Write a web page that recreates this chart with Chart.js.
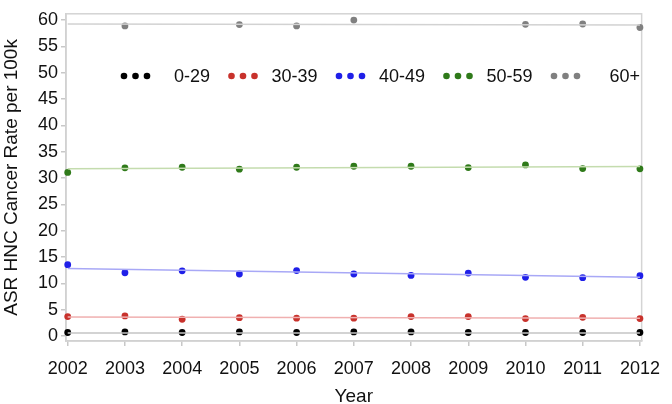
<!DOCTYPE html>
<html>
<head>
<meta charset="utf-8">
<script src="https://cdn.jsdelivr.net/npm/chart.js@4"></script>
<style>
  html, body { margin: 0; padding: 0; background: #fff; }
  #wrap { width: 672px; height: 404px; }
</style>
</head>
<body>
<div id="wrap"><canvas id="hncChart" width="672" height="404"></canvas></div>
<script>
// valores
const years = [2002, 2003, 2004, 2005, 2006, 2007, 2008, 2009, 2010, 2011, 2012];
const yTicks = [0, 5, 10, 15, 20, 25, 30, 35, 40, 45, 50, 55, 60];
const groupNames = ['0-29', '30-39', '40-49', '50-59', '60+'];

const rate0_29  = [0.68, 0.8, 0.68, 0.8, 0.68, 0.8, 0.8, 0.68, 0.68, 0.68, 0.68];
const rate30_39 = [3.7, 3.83, 3.2, 3.5, 3.4, 3.4, 3.7, 3.7, 3.33, 3.57, 3.33];
const rate40_49 = [13.56, 12.03, 12.4, 11.79, 12.45, 11.79, 11.53, 11.97, 11.16, 11.1, 11.47];
const rate50_59 = [31.08, 31.95, 32.06, 31.69, 32.06, 32.25, 32.25, 32.0, 32.5, 31.82, 31.77];
const rate60up  = [null, 58.9, null, 59.15, 58.9, 60.0, null, null, 59.2, 59.26, 58.6];

// linhas de tendência (início 2002, fim 2012)
const trendYears = [2002, 2012];
const trend0_29  = [0.6, 0.6];
const trend30_39 = [3.64, 3.39];
const trend40_49 = [12.82, 11.16];
const trend50_59 = [31.77, 32.19];
const trend60up  = [59.26, 59.07];

const dotColors   = ['#000000', '#c8322c', '#1f1fe8', '#2f7a1a', '#808080'];
const trendColors = ['#c4c4c4', '#f0b0b0', '#a8a8f6', '#c4dcae', '#d2d2d2'];

const FONT = "'Liberation Sans', Arial, sans-serif";

function toPoints(xs, ys) {
    return xs.map((x, i) => ({ x: x, y: ys[i] }));
}

const series = [rate0_29, rate30_39, rate40_49, rate50_59, rate60up];
const trends = [trend0_29, trend30_39, trend40_49, trend50_59, trend60up];

const datasets = [];
trends.forEach((t, i) => {
    datasets.push({
        type: 'line',
        label: groupNames[i] + ' trend',
        data: toPoints(trendYears, t),
        borderColor: trendColors[i],
        borderWidth: 1.5,
        pointRadius: 0,
        fill: false
    });
});
series.forEach((s, i) => {
    datasets.push({
        type: 'scatter',
        label: groupNames[i],
        data: toPoints(years, s),
        backgroundColor: dotColors[i],
        borderColor: dotColors[i],
        borderWidth: 0,
        pointRadius: 3.4,
        clip: false
    });
});

// moldura cinza em volta da área do gráfico
const framePlugin = {
    id: 'frame',
    beforeDatasetsDraw(chart) {
        const a = chart.chartArea;
        const ctx = chart.ctx;
        ctx.save();
        ctx.strokeStyle = '#d4d4d4';
        ctx.lineWidth = 1.5;
        ctx.strokeRect(a.left, a.top, a.right - a.left, a.bottom - a.top);
        ctx.restore();
    }
};

// legenda interna com três pontos por grupo
const dotLegend = {
    id: 'dotLegend',
    afterDraw(chart) {
        const ctx = chart.ctx;
        const a = chart.chartArea;
        const y = 76;
        ctx.save();
        ctx.font = '18px ' + FONT;
        ctx.textBaseline = 'middle';
        ctx.textAlign = 'right';
        groupNames.forEach((name, i) => {
            const x0 = a.left + 58 + i * 107.5;
            ctx.fillStyle = dotColors[i];
            for (let k = 0; k < 3; k++) {
                ctx.beginPath();
                ctx.arc(x0 + k * 11.5, y, 3.3, 0, Math.PI * 2);
                ctx.fill();
            }
            ctx.fillStyle = '#111';
            ctx.fillText(name, x0 + 86, y + 1);
        });
        ctx.restore();
    }
};

const ctx = document.getElementById('hncChart').getContext('2d');
new Chart(ctx, {
    data: { datasets: datasets },
    options: {
        responsive: false,
        animation: false,
        layout: { padding: { top: 5, right: 19, left: 0, bottom: 0 } },
        plugins: { legend: { display: false }, tooltip: { enabled: false } },
        scales: {
            x: {
                type: 'linear',
                min: 2001.97,
                max: 2012.03,
                afterBuildTicks: (s) => { s.ticks = years.map(v => ({ value: v })); },
                afterFit: (s) => { s.height = 63; },
                grid: { drawOnChartArea: false, tickLength: 5, color: '#c8c8c8', lineWidth: 1.5 },
                border: { display: true, color: '#c8c8c8', width: 1.5 },
                ticks: { color: '#111', font: { family: FONT, size: 18 }, padding: 12, maxRotation: 0, callback: v => String(v) },
                title: { display: true, text: 'Year', color: '#111', font: { family: FONT, size: 19 }, padding: { top: 4, bottom: -4 } }
            },
            y: {
                type: 'linear',
                min: -0.93,
                max: 61.2,
                afterBuildTicks: (s) => { s.ticks = yTicks.map(v => ({ value: v })); },
                afterFit: (s) => { s.width = 66; },
                grid: { drawOnChartArea: false, tickLength: 5, color: '#c8c8c8', lineWidth: 1.5 },
                border: { display: true, color: '#c8c8c8', width: 1.5 },
                ticks: { color: '#111', font: { family: FONT, size: 18 }, padding: 3, callback: v => String(v) },
                title: { display: true, text: 'ASR HNC Cancer Rate per 100k', color: '#111', font: { family: FONT, size: 19 }, padding: { top: 0, bottom: 2 } }
            }
        }
    },
    plugins: [framePlugin, dotLegend]
});
</script>
</body>
</html>
